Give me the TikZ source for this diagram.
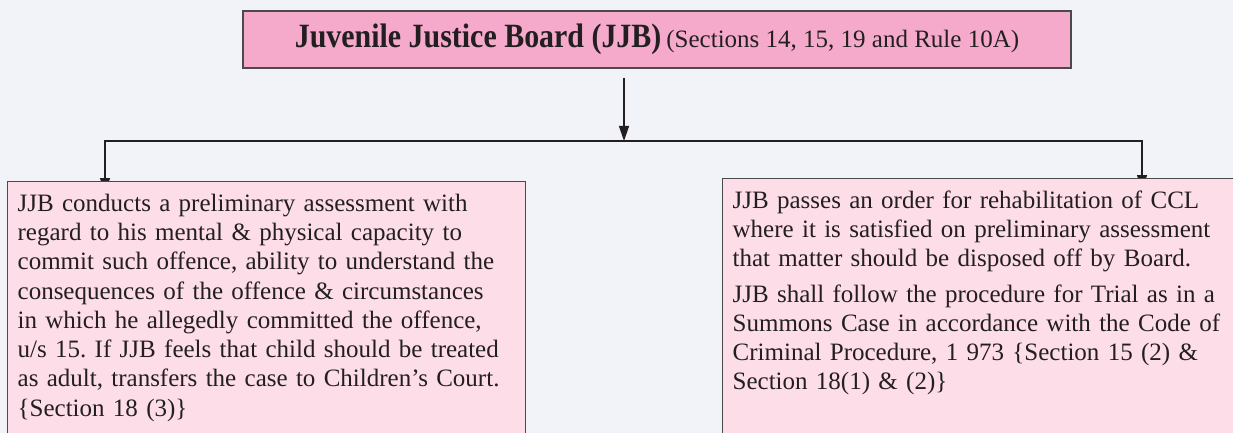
\documentclass[tikz,border=0pt]{standalone}
\usepackage{fontspec}
\setmainfont{Liberation Serif}
\newfontfamily\headfont{Liberation Serif}[FakeStretch=0.88]
\usetikzlibrary{arrows.meta,positioning}
\frenchspacing

\definecolor{pagebg}{HTML}{F2F3F8}
\definecolor{headpink}{HTML}{F5AACC}
\definecolor{softpink}{HTML}{FCDDE8}
\definecolor{boxline}{HTML}{4A4A4A}
\definecolor{ink}{HTML}{231F20}

\pgfdeclarelayer{back}
\pgfsetlayers{back,main}

\begin{document}
\begin{tikzpicture}
  [
   x=1pt, y=1pt,
   box/.style={draw=boxline,line width=1.3pt,text=ink},
   headbox/.style={box,fill=headpink,minimum width=828pt,minimum height=57pt},
   textbox/.style={box,fill=softpink,anchor=north west,align=left,inner xsep=10pt,inner ysep=11.5pt,
                   text height=18pt,text depth=260pt,font=\fontsize{25}{29.3}\selectfont},
   link/.style={line width=1.3pt,draw=ink},
   tip/.style={-{Triangle[length=15pt,width=10pt]}}
  ]
   \useasboundingbox (0,0) rectangle (1233,-433);
   \clip (0,0) rectangle (1233,-433);
   \begin{pgfonlayer}{back}
     \fill[pagebg] (0,0) rectangle (1233,-433);
   \end{pgfonlayer}

   \node[headbox] (jjb) at (657,-39.5)
     {{\fontsize{34}{40}\headfont\bfseries Juvenile Justice Board (JJB)}\ \
      {\fontsize{25}{29}\selectfont(Sections 14, 15, 19 and Rule 10A)}};
   \node[textbox,text width=498pt] (assess) at (7,-181)
     {JJB conducts a preliminary assessment with\\
      regard to his mental \& physical capacity to\\
      commit such offence, ability to understand the\\
      consequences of the offence \& circumstances\\
      in which he allegedly committed the offence,\\
      u/s 15. If JJB feels that child should be treated\\
      as adult, transfers the case to Children’s Court.\\
      \{Section 18 (3)\}};
   \node[textbox,text width=520pt] (rehab) at (722,-178)
     {JJB passes an order for rehabilitation of CCL\\
      where it is satisfied on preliminary assessment\\
      that matter should be disposed off by Board.\\[6pt]
      JJB shall follow the procedure for Trial as in a\\
      Summons Case in accordance with the Code of\\
      Criminal Procedure, 1 973 \{Section 15 (2) \&\\
      Section 18(1) \& (2)\}};

   \begin{pgfonlayer}{back}
     \coordinate (stem) at (624,-78);
     \coordinate (fork) at (624,-141);
     \draw[link,tip] (stem) -- (fork);
     \draw[link,tip] (fork) -| ([xshift=98pt,yshift=-12pt]assess.north west);
     \draw[link,tip] (fork) -| ([xshift=420pt,yshift=-12pt]rehab.north west);
   \end{pgfonlayer}

\end{tikzpicture}
\end{document}
